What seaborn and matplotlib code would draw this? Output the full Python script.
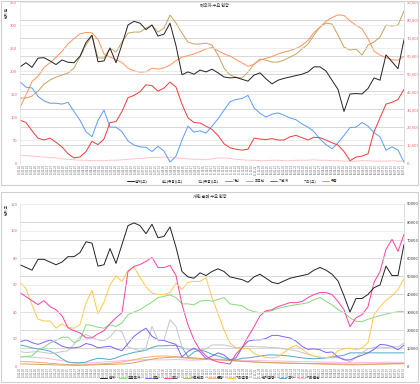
import numpy as np
import pandas as pd
import matplotlib
matplotlib.use('Agg')
import matplotlib.pyplot as plt
from matplotlib.lines import Line2D
from matplotlib.patches import Rectangle
from matplotlib.ticker import FuncFormatter
import seaborn as sns

sns.set_style('white')
plt.rcParams['font.family'] = ['Noto Sans CJK KR', 'DejaVu Sans']

dates = pd.date_range('2015-01-02', periods=65, freq='9D')

# ---- top chart (left axis: 합계, 개인, 기관계, 기타 / right axis: 외국인, 유동)
top_total = [209, 218, 208, 228, 229, 222, 214, 224, 219, 218, 232, 262, 278, 220, 222, 250,
             218, 258, 300, 308, 304, 290, 300, 276, 280, 304, 255, 192, 198, 193, 202, 198,
             204, 196, 187, 185, 186, 182, 178, 191, 196, 183, 172, 180, 184, 187, 190, 193,
             198, 209, 209, 200, 180, 160, 112, 150, 151, 150, 162, 185, 180, 235, 220, 205, 268]
top_indiv = [176, 165, 163, 145, 135, 130, 130, 128, 132, 112, 93, 68, 57, 93, 115, 78,
             78, 68, 48, 39, 35, 34, 25, 36, 26, 2, 15, 50, 80, 67, 70, 65,
             80, 96, 115, 133, 138, 140, 147, 120, 108, 100, 106, 109, 104, 98, 94, 85,
             78, 68, 52, 40, 31, 44, 60, 77, 78, 88, 80, 66, 57, 28, 35, 28, 2]
top_inst = [93, 88, 70, 54, 50, 54, 45, 35, 20, 11, 13, 25, 47, 40, 52, 88,
            90, 112, 142, 147, 155, 170, 168, 156, 163, 176, 165, 128, 98, 88, 87, 80,
            73, 60, 42, 33, 30, 28, 30, 54, 52, 51, 53, 50, 50, 57, 60, 55,
            50, 56, 55, 50, 44, 39, 25, 5, 13, 15, 20, 68, 98, 128, 132, 138, 160]
top_etc = [17, 16, 15, 14, 13, 12, 11, 9, 8, 7, 6, 6, 5, 5, 5, 6, 6, 7, 8, 9, 10, 11, 12, 12,
           13, 12, 11, 10, 9, 8, 8, 7, 9, 11, 11, 10, 8, 7, 6, 6, 5, 5, 6, 6, 5, 5, 6, 6,
           6, 7, 6, 6, 5, 5, 4, 4, 4, 5, 5, 4, 4, 4, 5, 4, 4]
top_foreign = [31000, 38000, 45500, 48500, 53500, 56000, 59000, 62500, 66500, 69500, 72200, 73000,
               72800, 69000, 61000, 59200, 57800, 56200, 53000, 51500, 50800, 51000, 53000, 52500,
               53200, 54700, 57200, 59200, 60000, 61000, 62200, 63800, 64500, 62800, 61000, 59800,
               57800, 56000, 54000, 55200, 57500, 58500, 59500, 61000, 62000, 62800, 64000, 65800,
               68500, 73000, 76000, 79300, 81300, 82800, 82500, 79500, 77000, 75000, 69500, 62500,
               60300, 58900, 57700, 57500, 59500]
top_float = [36300, 36300, 37400, 40200, 44100, 46400, 48000, 49200, 50300, 53100, 59200, 65900,
             71000, 58700, 58700, 64200, 62000, 67600, 72600, 73200, 73200, 75400, 77100, 73200,
             75400, 82700, 78200, 72600, 67600, 66500, 66500, 67000, 65900, 60300, 53100, 49200,
             48000, 47500, 50800, 55300, 58100, 57500, 56400, 56400, 57500, 59200, 60900, 63700,
             66500, 71500, 76000, 78200, 77700, 71500, 64800, 63100, 63700, 60300, 65900, 67600,
             70400, 77100, 76500, 77100, 85000]

# ---- bottom chart (left axis: 합계 / right axis: the rest)
bot_total = [75, 73, 71, 79, 79, 77, 75, 77, 81, 81, 84, 92, 91, 74, 75, 87,
             76, 90, 104, 106, 104, 98, 105, 95, 96, 103, 88, 70, 66, 65, 69, 67,
             70, 72, 70, 66, 65, 64, 62, 66, 68, 65, 62, 61, 63, 65, 66, 67,
             68, 71, 73, 71, 68, 63, 52, 40, 50, 50, 53, 58, 60, 74, 67, 67, 90]
bot_fin = [5000, 5200, 5600, 8900, 10500, 12800, 14200, 16000, 16000, 13000, 14500, 23000,
           22500, 21500, 21000, 22900, 22000, 24000, 28500, 30000, 31300, 33500, 35500, 38000,
           38700, 39500, 38000, 34500, 34500, 34000, 36000, 36500, 36000, 37000, 38000, 34500,
           34000, 33500, 31300, 30200, 29600, 30000, 30800, 32000, 32800, 33500, 34100, 34500,
           35200, 36900, 38000, 36000, 34000, 31300, 29600, 26800, 24800, 24600, 26000, 27000,
           28000, 28800, 29600, 30200, 30200]
bot_ins = [13400, 14500, 13000, 12000, 13200, 14500, 13000, 11000, 10100, 10100, 10600, 12500,
           11700, 10100, 10600, 11000, 9500, 8500, 12500, 16500, 19000, 21000, 16500, 14500,
           14200, 13000, 12000, 5000, 8000, 10000, 7800, 4000, 5500, 7300, 6100, 3400,
           4500, 10100, 13800, 14500, 14500, 15300, 17000, 17000, 16200, 15600, 13800, 11000,
           9200, 9500, 9000, 7500, 7800, 5000, 3400, 3400, 4800, 6000, 7300, 9200,
           12000, 11700, 10800, 9000, 11700]
bot_trust = [40800, 38500, 36300, 34100, 36300, 33000, 31300, 27900, 21200, 19600, 18400, 15600,
             15600, 17900, 19600, 23500, 26800, 29600, 52500, 55300, 56400, 58100, 60300, 54700,
             54700, 55900, 50300, 34100, 22900, 14500, 8900, 5600, 3400, 2200, 1700, 1100,
             6700, 10100, 16200, 21800, 27900, 30700, 31300, 33000, 34100, 35200, 35200, 35800,
             38000, 39700, 40800, 40800, 39700, 35800, 31300, 21800, 26800, 28500, 33000, 46400,
             52500, 64800, 70400, 63700, 73200]
bot_pef = [1200, 1100, 1000, 900, 800, 700, 600, 500, 500, 400, 400, 500, 600, 700, 800, 900,
           1000, 1100, 1300, 1800, 2500, 3200, 3800, 4300, 4600, 4800, 5000, 4900, 4700, 4500,
           4200, 4000, 3800, 3500, 3300, 3000, 2800, 2600, 2400, 2200, 2000, 1900, 1800, 1700,
           1600, 1500, 1500, 1400, 1400, 1300, 1300, 1200, 1200, 1100, 1100, 1000, 1000, 1000,
           1100, 1100, 1200, 1200, 1300, 1300, 1300]
bot_bank = [2500, 2400, 2300, 2000, 1800, 1500, 1300, 1000, 800, 700, 600, 700, 900, 1100, 1300,
            1500, 1800, 2200, 2800, 3500, 4200, 4800, 5200, 5500, 5600, 5400, 5100, 4700, 4300,
            4000, 3800, 3600, 3500, 3400, 3300, 3100, 2900, 2700, 2500, 2300, 2100, 2000, 1900,
            1800, 1700, 1600, 1500, 1400, 1300, 1200, 1100, 1000, 900, 800, 700, 600, 600, 700,
            800, 900, 1000, 1100, 1200, 1200, 1300]
bot_etcfin = [46400, 43000, 34000, 26000, 25000, 25000, 21000, 23500, 21500, 21000, 22900, 35000,
              42000, 29000, 35500, 45000, 50000, 47000, 53000, 55000, 49200, 44000, 40500, 39700,
              39700, 40800, 46000, 42500, 46500, 47000, 47000, 49000, 38000, 29000, 20000, 12800,
              10000, 9500, 10000, 7000, 5500, 4800, 4500, 5000, 7500, 10100, 11500, 9500,
              6800, 5500, 4700, 4700, 5300, 8500, 9500, 10000, 9000, 10000, 13000, 28500,
              33000, 36500, 39000, 42500, 48500]
bot_pension = [8000, 7500, 7800, 8000, 7500, 7000, 7300, 8000, 8500, 12000, 16200, 17500,
               16000, 14500, 14000, 16200, 20000, 19000, 10500, 9500, 8500, 10000, 22000, 14500,
               14500, 25700, 22000, 10500, 9000, 9200, 9000, 9500, 11700, 11700, 11700, 11000,
               10000, 10600, 11000, 10800, 10600, 10500, 10200, 10100, 9500, 9000, 8500, 7500,
               6500, 5500, 5000, 4700, 4500, 4800, 4000, 2200, 4800, 7500, 9500, 10300,
               10600, 10200, 10600, 10600, 12800]
bot_nation = [11700, 11000, 10100, 9500, 9000, 8200, 6500, 4000, 2200, 1800, 1800, 2200,
              3400, 4300, 4000, 3600, 4500, 5800, 6700, 7600, 8100, 8800, 10300, 11200,
              11200, 11500, 11300, 10500, 5000, 7800, 8900, 8000, 6500, 5500, 4500, 3400,
              3400, 4300, 4500, 5000, 5500, 6000, 6200, 6000, 5800, 5500, 5000, 4500,
              4200, 4000, 4200, 4500, 5000, 5500, 6000, 7300, 7300, 7300, 7300, 7300,
              7300, 7300, 7300, 7300, 7300]
bot_corp = [5000, 5200, 4800, 4600, 4500, 4000, 3500, 3000, 2200, 1700, 1500, 1600, 1800, 2000,
            2300, 2500, 2700, 3000, 3200, 3300, 3400, 3500, 3500, 3400, 3400, 3500, 3600, 3500,
            3300, 3200, 3400, 3600, 3700, 3800, 3600, 3400, 3300, 3200, 3100, 3000, 3000, 2900,
            2800, 2800, 2700, 2600, 2500, 2400, 2400, 2300, 2200, 2100, 2100, 2000, 1900, 1800,
            1800, 1900, 1900, 2000, 2000, 2100, 2100, 2000, 2000]

top_df = pd.DataFrame({'date': dates, '합계': top_total, '개인': top_indiv, '기관계': top_inst,
                       '기타': top_etc, '외국인': top_foreign, '유동': top_float})
bot_df = pd.DataFrame({'date': dates, '합계': bot_total, '금융투자': bot_fin, '보험': bot_ins,
                       '투신': bot_trust, '사모펀드': bot_pef, '은행': bot_bank,
                       '기타금융': bot_etcfin, '연기금등': bot_pension, '국가': bot_nation,
                       '기타법인': bot_corp})

W, H = 420, 384
fig = plt.figure(figsize=(4.2, 3.84), dpi=100)

# chart boxes
for y0, y1 in [(1, 185), (192, 382)]:
    fig.patches.append(Rectangle((1 / W, 1 - y1 / H), 417 / W, (y1 - y0) / H,
                                 transform=fig.transFigure, fill=False,
                                 edgecolor='#d0d0d0', linewidth=0.8))


def setup(ax, ax2, ymax, ystep, rmax, rstep, rfmt, lcol, rcol):
    ax.set_xlim(dates[0], dates[-1])
    ax.set_ylim(0, ymax)
    ax2.set_ylim(0, rmax)
    ax.set_yticks(np.arange(0, ymax + 1, ystep))
    ax2.set_yticks(np.arange(0, rmax + 1, rstep))
    ax2.yaxis.set_major_formatter(FuncFormatter(lambda v, p: rfmt.format(int(v))))
    ax.tick_params(axis='y', labelsize=3, colors=lcol, length=0, pad=2)
    ax2.tick_params(axis='y', labelsize=3, colors=rcol, length=0, pad=2)
    ticks = pd.date_range(dates[0], dates[-1], freq='6D')
    ax.set_xticks(ticks)
    ax.set_xticklabels([d.strftime('%y.%m.%d') for d in ticks], rotation=90,
                       fontsize=1.8, color='#555555')
    ax.tick_params(axis='x', length=0, pad=1)
    ax.grid(axis='y', color='#e6e6e6', linewidth=0.5)
    for v in np.arange(rstep, rmax, rstep):
        ax2.axhline(v, color='#c8c8c8', linewidth=0.5, zorder=0)
    for a in (ax, ax2):
        for s in a.spines.values():
            s.set_visible(False)
        a.set_xlabel('')
        a.set_ylabel('')
    ax2.spines['right'].set_visible(True)
    ax2.spines['right'].set_color('#d8d8d8')
    ax2.spines['right'].set_linewidth(0.6)
    ax.spines['left'].set_visible(True)
    ax.spines['left'].set_color('#e0e0e0')
    ax.spines['left'].set_linewidth(0.5)


# ---- top
ax1 = fig.add_axes([20 / W, 1 - 163 / H, 384 / W, 161 / H])
ax1r = ax1.twinx()
lw = 0.7
top_left = [('기타', '#ffc4c4'), ('개인', '#5b9cf6'), ('기관계', '#f23a3a'), ('합계', '#222222')]
top_right = [('유동', '#c4a45c'), ('외국인', '#ff935e')]
for name, col in top_right:
    sns.lineplot(data=top_df, x='date', y=name, ax=ax1r, color=col, linewidth=lw)
for name, col in top_left:
    sns.lineplot(data=top_df, x='date', y=name, ax=ax1, color=col, linewidth=lw)
ax1.set_zorder(ax1r.get_zorder() + 1)
ax1.patch.set_visible(False)
setup(ax1, ax1r, 350, 50, 90000, 10000, '{:,}', '#f06060', '#f06060')

fig.text(214 / W, 1 - 5 / H, '해외자 수요 현황', fontsize=3, ha='center', va='center')
fig.text(7 / W, 1 - 12 / H, '단위:원', fontsize=2.6, rotation=90, ha='center', va='center')

handles = [Line2D([], [], color='#222222', lw=0.7), Line2D([], [], color='none'),
           Line2D([], [], color='none'), Line2D([], [], color='#5b9cf6', lw=0.7),
           Line2D([], [], color='#ff935e', lw=0.7), Line2D([], [], color='#f23a3a', lw=0.7),
           Line2D([], [], color='none'), Line2D([], [], color='#c4a45c', lw=0.7)]
labels = ['합계(우)', 'A스(유동)(우)', 'T스(유동)(우)', '개인', '외국인', '기관계', '기타(우)', '유동']
fig.legend(handles, labels, loc='center', bbox_to_anchor=(232 / W, 1 - 181 / H), ncol=8,
           fontsize=2.6, frameon=False, handlelength=2.0, columnspacing=1.6, handletextpad=0.4)

# ---- bottom
ax2 = fig.add_axes([20 / W, 1 - 366 / H, 384 / W, 162 / H])
ax2r = ax2.twinx()
bot_right = [('기타법인', '#ffb6e6'), ('은행', '#ffa86a'), ('사모펀드', '#c8a868'),
             ('국가', '#4bacc6'), ('연기금등', '#c6c6c6'), ('보험', '#8060ff'),
             ('금융투자', '#86d97a'), ('기타금융', '#ffc84a'), ('투신', '#ff3fa6')]
for name, col in bot_right:
    sns.lineplot(data=bot_df, x='date', y=name, ax=ax2r, color=col, linewidth=lw)
sns.lineplot(data=bot_df, x='date', y='합계', ax=ax2, color='#222222', linewidth=lw)
ax2.set_zorder(ax2r.get_zorder() + 1)
ax2.patch.set_visible(False)
setup(ax2, ax2r, 120, 20, 90000, 10000, '{}', '#f06060', '#333333')

fig.text(210 / W, 1 - 196 / H, '개인 순매 수요 현황', fontsize=3, ha='center', va='center')
fig.text(7 / W, 1 - 209 / H, '단위:조', fontsize=2.6, rotation=90, ha='center', va='center')

bnames = ['합계', '금융투자', '보험', '투신', '사모펀드', '은행', '기타금융', '연기금등', '국가', '기타법인']
bcols = ['#222222', '#86d97a', '#8060ff', '#ff3fa6', '#c8a868', '#ffa86a', '#ffc84a',
         '#c6c6c6', '#4bacc6', '#ffb6e6']
bh = [Line2D([], [], color=c, lw=0.7) for c in bcols]
fig.legend(bh, bnames, loc='center', bbox_to_anchor=(210 / W, 1 - 378 / H), ncol=10,
           fontsize=2.6, frameon=False, handlelength=2.0, columnspacing=1.0, handletextpad=0.4)

fig.savefig('out.png', dpi=100)
